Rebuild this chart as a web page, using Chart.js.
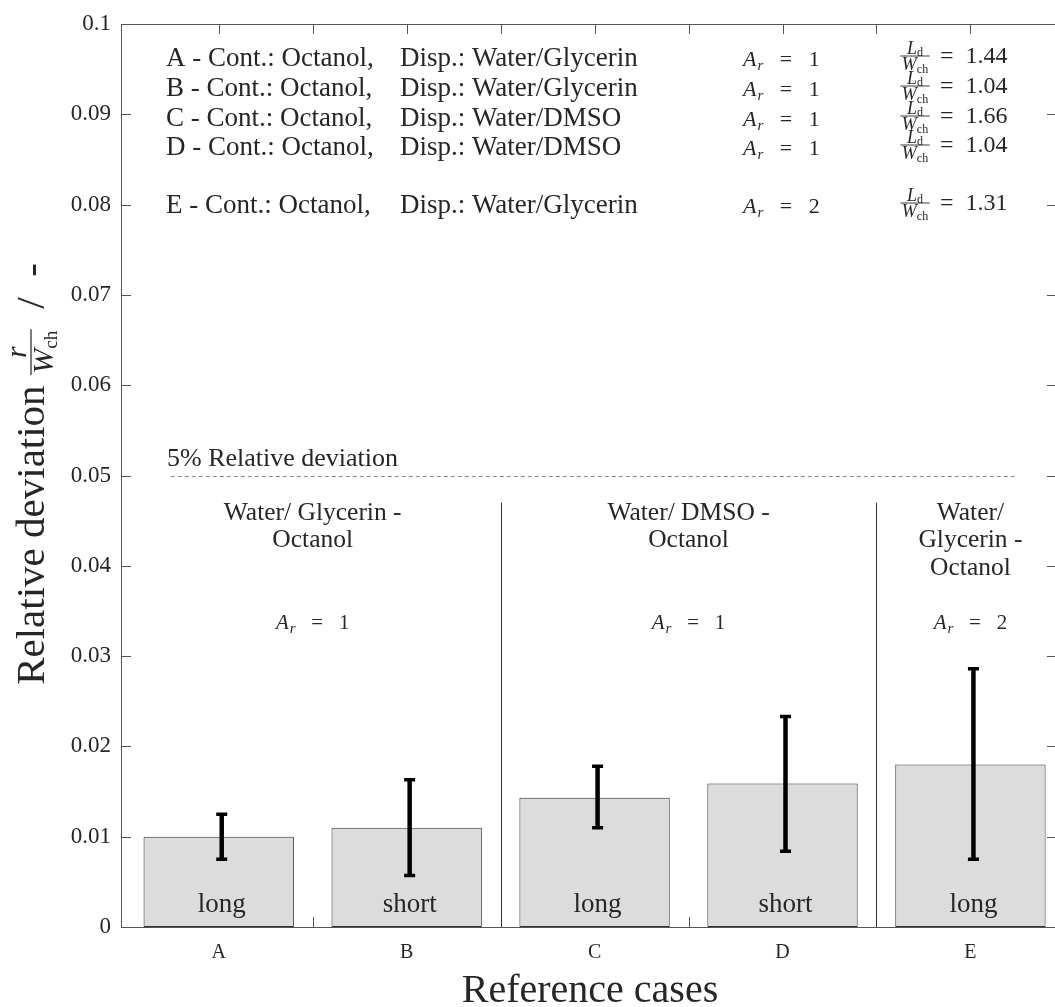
<!DOCTYPE html>
<html>
<head>
<meta charset="utf-8">
<script src="https://cdn.jsdelivr.net/npm/chart.js@4.4.1/dist/chart.umd.min.js"></script>
<style>
html,body{margin:0;padding:0;background:#fff;overflow:hidden}
canvas{display:block}
</style>
</head>
<body>
<canvas id="devChart" width="1055" height="1007"></canvas>
<script>
// ---- data ----
var cases = ['A','B','C','D','E']
var caseX = [1,2,3,4,5]
var meanDev = [0.0100, 0.0110, 0.0143, 0.0159, 0.0180]
var errLow  = [0.0075, 0.0057, 0.0110, 0.0084, 0.0075]
var errHigh = [0.0125, 0.0163, 0.0178, 0.0233, 0.0286]
var barText = ['long','short','long','short','long']

var yTicks = [0,0.01,0.02,0.03,0.04,0.05,0.06,0.07,0.08,0.09,0.1]
var xTickMarks = [1,1.5,2,2.5,3,3.5,4,4.5,5]

var legendCont = ['A - Cont.: Octanol,','B - Cont.: Octanol,','C - Cont.: Octanol,','D - Cont.: Octanol,','E - Cont.: Octanol,']
var legendDisp = ['Disp.: Water/Glycerin','Disp.: Water/Glycerin','Disp.: Water/DMSO','Disp.: Water/DMSO','Disp.: Water/Glycerin']
var legendAr = ['1','1','1','1','2']
var legendRatio = ['1.44','1.04','1.66','1.04','1.31']

var groupX = [1.5, 3.5, 5]
var groupLines = [['Water/ Glycerin -','Octanol'],['Water/ DMSO -','Octanol'],['Water/','Glycerin -','Octanol']]
var groupAr = ['1','1','2']
var separatorX = [2.5, 4.5]
var refLevel = 0.05

var serif = '"Liberation Serif", "DejaVu Serif", serif'
var ink = '#262626'

function font(sz, it){ return (it ? 'italic ' : '') + sz + 'px ' + serif }

function runsWidth(ctx, runs){
    var w = 0
    runs.forEach(function(r){ ctx.font = font(r.size, r.it); w += ctx.measureText(r.t).width + (r.gap || 0) })
    return w
}
function drawRuns(ctx, runs, x, y){
    runs.forEach(function(r){
        ctx.font = font(r.size, r.it)
        ctx.fillText(r.t, x, y + (r.dy || 0))
        x += ctx.measureText(r.t).width + (r.gap || 0)
    })
    return x
}
// fraction centred on cx, rule at ruleY
function drawFrac(ctx, num, den, cx, ruleY, numBase, denBase, lw){
    var wn = runsWidth(ctx, num), wd = runsWidth(ctx, den)
    var w = Math.max(wn, wd) + 3
    ctx.fillRect(cx - w/2, ruleY - lw/2, w, lw)
    drawRuns(ctx, num, cx - wn/2, ruleY + numBase)
    drawRuns(ctx, den, cx - wd/2, ruleY + denBase)
    return w
}
function arRuns(val, sz){
    return [{t:'A', size:sz, it:true, gap:1}, {t:'r', size:Math.round(sz*0.7), it:true, dy:4}, {t:'   =   ' + val, size:sz}]
}

var deco = {
    id:'deco',
    beforeDatasetsDraw(chart){
        var ctx = chart.ctx, a = chart.chartArea, xs = chart.scales.x, ys = chart.scales.y
        ctx.save()
        ctx.strokeStyle = '#555'
        ctx.lineWidth = 1
        ctx.beginPath()
        ctx.moveTo(a.left + 0.5, a.top); ctx.lineTo(a.left + 0.5, a.bottom + 1)
        ctx.moveTo(a.left, a.top + 0.5); ctx.lineTo(a.right, a.top + 0.5)
        ctx.moveTo(a.left, a.bottom + 0.5); ctx.lineTo(a.right, a.bottom + 0.5)
        xTickMarks.forEach(function(v){
            var px = Math.round(xs.getPixelForValue(v)) + 0.5
            ctx.moveTo(px, a.top); ctx.lineTo(px, a.top + 10)
            ctx.moveTo(px, a.bottom); ctx.lineTo(px, a.bottom - 10)
        })
        yTicks.forEach(function(v){
            var py = Math.round(ys.getPixelForValue(v)) + 0.5
            ctx.moveTo(a.left, py); ctx.lineTo(a.left + 10, py)
            ctx.moveTo(a.right, py); ctx.lineTo(a.right - 8, py)
        })
        ctx.stroke()

        // group separators
        ctx.strokeStyle = '#333'
        ctx.beginPath()
        separatorX.forEach(function(v){
            var px = Math.round(xs.getPixelForValue(v)) + 0.5
            ctx.moveTo(px, ys.getPixelForValue(0.047)); ctx.lineTo(px, a.bottom)
        })
        ctx.stroke()

        // 5% reference line
        ctx.strokeStyle = '#8c8c8c'
        ctx.setLineDash([4,3])
        ctx.beginPath()
        var ry = Math.round(ys.getPixelForValue(refLevel)) + 0.5
        ctx.moveTo(xs.getPixelForValue(0.745), ry); ctx.lineTo(xs.getPixelForValue(5.245), ry)
        ctx.stroke()
        ctx.setLineDash([])
        ctx.restore()
    },
    afterDatasetsDraw(chart){
        var ctx = chart.ctx, a = chart.chartArea, xs = chart.scales.x, ys = chart.scales.y
        ctx.save()
        // error bars
        ctx.strokeStyle = '#000'
        caseX.forEach(function(v, i){
            var px = xs.getPixelForValue(v) + 3
            var y0 = ys.getPixelForValue(errLow[i]), y1 = ys.getPixelForValue(errHigh[i])
            ctx.lineWidth = 4.5
            ctx.beginPath(); ctx.moveTo(px, y0); ctx.lineTo(px, y1); ctx.stroke()
            ctx.lineWidth = 3.5
            ctx.beginPath()
            ctx.moveTo(px - 5.5, y0); ctx.lineTo(px + 5.5, y0)
            ctx.moveTo(px - 5.5, y1); ctx.lineTo(px + 5.5, y1)
            ctx.stroke()
        })

        ctx.fillStyle = ink
        ctx.textBaseline = 'alphabetic'

        // labels inside bars
        ctx.textAlign = 'center'
        ctx.font = font(27)
        caseX.forEach(function(v, i){ ctx.fillText(barText[i], xs.getPixelForValue(v) + 3, 912) })

        // 5% label
        ctx.textAlign = 'left'
        ctx.font = font(26)
        ctx.fillText('5% Relative deviation', 167, ys.getPixelForValue(refLevel) - 10)

        // group labels
        ctx.textAlign = 'center'
        var lineBase = [520, 547, 575]
        groupX.forEach(function(g, k){
            var cx = xs.getPixelForValue(g)
            ctx.font = font(25.5)
            groupLines[k].forEach(function(t, j){ ctx.fillText(t, cx, lineBase[j]) })
            ctx.textAlign = 'left'
            var runs = arRuns(groupAr[k], 21)
            drawRuns(ctx, runs, cx - runsWidth(ctx, runs)/2, 629)
            ctx.textAlign = 'center'
        })

        // legend block
        ctx.textAlign = 'left'
        var rowBase = [66, 96, 126, 155, 213]
        rowBase.forEach(function(b, i){
            ctx.font = font(27)
            ctx.fillText(legendCont[i], 166, b)
            ctx.fillText(legendDisp[i], 400, b)
            drawRuns(ctx, arRuns(legendAr[i], 22), 743, b)
            drawFrac(ctx,
                [{t:'L', size:18, it:true}, {t:'d', size:12, dy:2}],
                [{t:'W', size:18, it:true}, {t:'ch', size:12, dy:3}],
                915, b - 10, -2, 14, 0.9)
            ctx.font = font(24)
            ctx.fillText('=  ' + legendRatio[i], 940, b - 3)
        })

        // x axis title
        ctx.textAlign = 'center'
        ctx.font = font(40)
        ctx.fillText('Reference cases', (a.left + a.right)/2 + 2, 1002)

        // y axis title (rotated, with fraction)
        ctx.save()
        ctx.translate(44, 474)
        ctx.rotate(-Math.PI/2)
        ctx.textAlign = 'left'
        ctx.font = font(41)
        var t1 = 'Relative deviation ', t2 = '  /  -'
        var w1 = ctx.measureText(t1).width, w3 = ctx.measureText(t2).width
        var num = [{t:'r', size:30, it:true}]
        var den = [{t:'W', size:30, it:true}, {t:'ch', size:19, dy:4}]
        var wf = Math.max(runsWidth(ctx, num), runsWidth(ctx, den)) + 3
        var x0 = -(w1 + wf + w3)/2
        ctx.font = font(41)
        ctx.fillText(t1, x0, 0)
        drawFrac(ctx, num, den, x0 + w1 + wf/2, -13, -5, 22, 1.2)
        ctx.font = font(41)
        ctx.fillText(t2, x0 + w1 + wf, 0)
        ctx.restore()

        ctx.restore()
    }
}

var chart = new Chart(document.getElementById('devChart').getContext('2d'), {
    type:'bar',
    data:{
        datasets:[{
            data: caseX.map(function(x, i){ return {x:x, y:meanDev[i]} }),
            backgroundColor:'#dcdcdc',
            borderColor:'#303030',
            borderWidth:1,
            borderSkipped:false,
            barPercentage:0.8,
            categoryPercentage:1
        }]
    },
    options:{
        responsive:false,
        animation:false,
        devicePixelRatio:1,
        layout:{ padding:{ top:24, right:0, left:0, bottom:0 } },
        plugins:{ legend:{display:false}, tooltip:{enabled:false} },
        scales:{
            x:{
                type:'linear',
                min:0.48, max:5.45,
                offset:false,
                grid:{ display:false, drawTicks:false, offset:false },
                border:{ display:false },
                afterBuildTicks: function(s){ s.ticks = caseX.map(function(v){ return {value:v} }) },
                afterFit: function(s){ s.height = 80 },
                ticks:{
                    callback: function(v){ return cases[caseX.indexOf(v)] },
                    font:{ family:serif, size:20 },
                    color:ink,
                    padding:14,
                    maxRotation:0,
                    autoSkip:false
                }
            },
            y:{
                min:0, max:0.1,
                grid:{ display:false, drawTicks:false },
                border:{ display:false },
                afterBuildTicks: function(s){ s.ticks = yTicks.map(function(v){ return {value:v} }) },
                afterFit: function(s){ s.width = 121 },
                ticks:{
                    callback: function(v){ return String(+v.toFixed(2)) },
                    font:{ family:serif, size:23 },
                    color:ink,
                    padding:10
                }
            }
        }
    },
    plugins:[deco]
})
</script>
</body>
</html>
